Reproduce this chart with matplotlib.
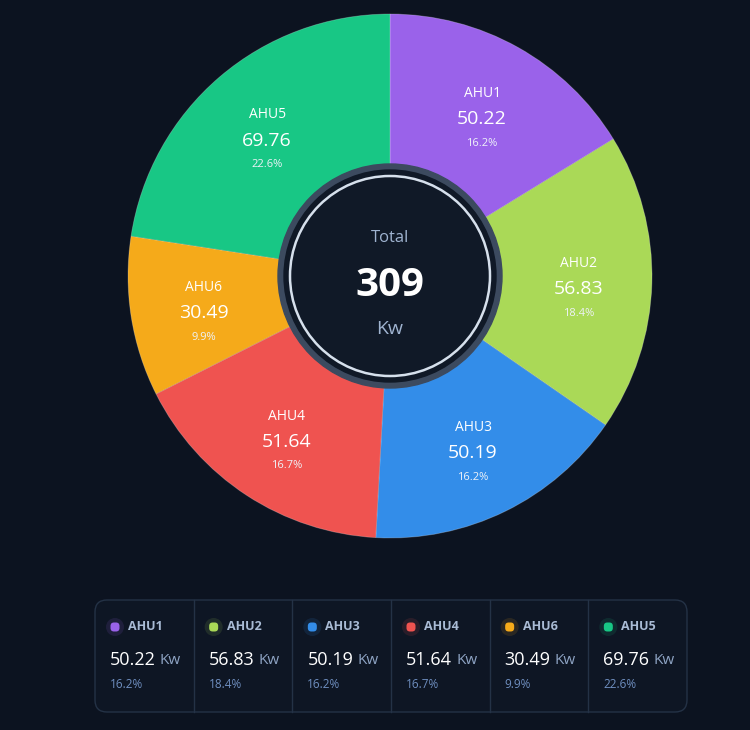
import matplotlib
matplotlib.use('Agg')
import matplotlib.pyplot as plt
import matplotlib.patches as patches
import numpy as np

names = ["AHU1", "AHU2", "AHU3", "AHU4", "AHU6", "AHU5"]
values = [50.22, 56.83, 50.19, 51.64, 30.49, 69.76]
colors = ["#9a62ea", "#aad957", "#338de9", "#ef5350", "#f5aa1a", "#18c785"]
unit = "Kw"

total = sum(values)
pcts = [v / total * 100 for v in values]

BG = "#0c1320"
plt.rcParams['font.family'] = ['Open Sans', 'DejaVu Sans']

W, H = 750, 730
fig = plt.figure(figsize=(W / 100, H / 100), dpi=100, facecolor=BG)

# pie axes: center (390, 276) px, radius 262 px
cx, cy, R = 390, 276, 262
ax = fig.add_axes([(cx - R) / W, (H - cy - R) / H, 2 * R / W, 2 * R / H])
ax.set_facecolor(BG)
wedges, _ = ax.pie(values, colors=colors, startangle=90, counterclock=False, radius=1,
                   wedgeprops=dict(edgecolor=(1, 1, 1, 0.25), linewidth=0.6))
ax.set_xlim(-1, 1)
ax.set_ylim(-1, 1)
ax.set_aspect('equal')
ax.axis('off')

for w, n, v, p in zip(wedges, names, values, pcts):
    ang = np.deg2rad((w.theta1 + w.theta2) / 2)
    x, y = 0.72 * np.cos(ang), 0.72 * np.sin(ang) - 0.03
    ax.text(x, y + 0.098, n, ha='center', va='center', color='white', fontsize=10)
    ax.text(x, y, f"{v:.2f}", ha='center', va='center', color='white', fontsize=14)
    ax.text(x, y - 0.092, f"{p:.1f}%", ha='center', va='center', color='#eef2f8', fontsize=8)

# overlay in pixel coordinates
ov = fig.add_axes([0, 0, 1, 1])
ov.set_xlim(0, W)
ov.set_ylim(H, 0)
ov.axis('off')
ov.patch.set_alpha(0)

# center badge
ov.add_patch(patches.Circle((cx, cy), 112, color="#3c4a5f", zorder=2))
ov.add_patch(patches.Circle((cx, cy), 106, color="#101927", zorder=3))
ov.add_patch(patches.Circle((cx, cy), 100, fill=False, edgecolor="#d6e0ec", lw=1.8, zorder=4))
ov.text(cx, 238, "Total", ha='center', va='center', color="#9fb3d0", fontsize=12, zorder=5)
ov.text(cx, 286, f"{total:.0f}", ha='center', va='center', color="white", fontsize=29,
        fontweight='bold', zorder=5)
ov.text(cx, 329, unit, ha='center', va='center', color="#9fb3d0", fontsize=14, zorder=5)

# legend cards
lx0, ly0, lx1, ly1 = 95, 600, 687, 712
ov.add_patch(patches.FancyBboxPatch((lx0, ly0), lx1 - lx0, ly1 - ly0,
                                    boxstyle="round,pad=0,rounding_size=12",
                                    facecolor="#0e1624", edgecolor="#243246", lw=1))
cw = (lx1 - lx0) / len(names)
for i, (n, v, p, c) in enumerate(zip(names, values, pcts, colors)):
    x0 = lx0 + i * cw
    if i > 0:
        ov.plot([x0, x0], [ly0, ly1], color="#243246", lw=1)
    ov.add_patch(patches.Circle((x0 + 20, 627), 9, color=c, alpha=0.12, lw=0))
    ov.add_patch(patches.FancyBboxPatch((x0 + 15.5, 622.5), 9, 9,
                                        boxstyle="round,pad=0,rounding_size=3.5",
                                        facecolor=c, edgecolor='none'))
    ov.text(x0 + 33, 627, n, ha='left', va='center', color="#a9bbd5", fontsize=9,
            fontweight='bold')
    t = ov.text(x0 + 15, 660, f"{v:.2f}", ha='left', va='center', color="white", fontsize=13)
    fig.canvas.draw()
    bb = t.get_window_extent()
    ov.text(bb.x1 + 4, 661, unit, ha='left', va='center', color="#8ea4c4", fontsize=11)
    ov.text(x0 + 15, 685, f"{p:.1f}%", ha='left', va='center', color="#6f8fc0", fontsize=8.5)

fig.savefig("out.png", dpi=100, facecolor=BG)
